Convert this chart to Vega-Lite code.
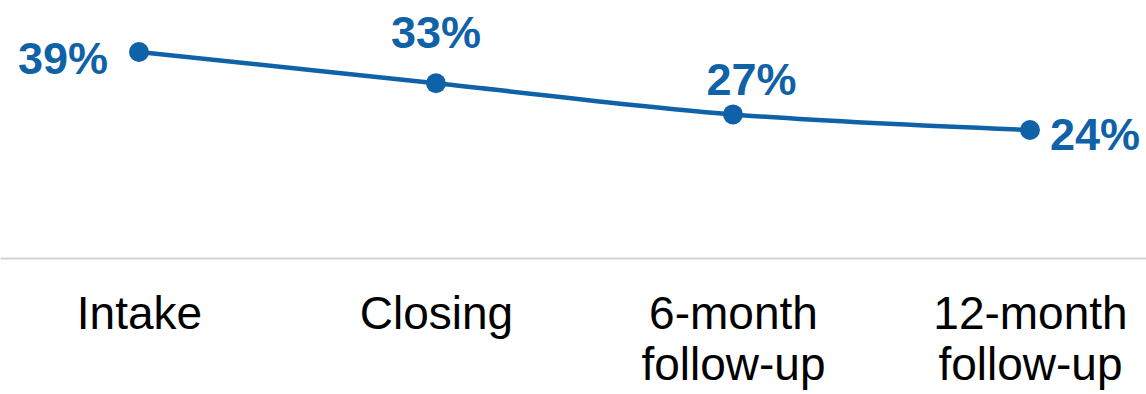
{
  "$schema": "https://vega.github.io/schema/vega-lite/v6.json",
  "width": 1146,
  "height": 258,
  "autosize": {"type": "none"},
  "padding": {"left": 0, "top": 0, "right": 0, "bottom": 136},
  "background": "white",
  "config": {"view": {"stroke": null}, "font": "Liberation Sans"},
  "data": {
    "values": [
      {"stage": "Intake", "pct": 0.39},
      {"stage": "Closing", "pct": 0.33},
      {"stage": "6-month follow-up", "pct": 0.27},
      {"stage": "12-month follow-up", "pct": 0.24}
    ]
  },
  "encoding": {
    "x": {
      "field": "stage",
      "type": "ordinal",
      "sort": null,
      "scale": {"type": "point", "padding": 0.4293, "align": 0.545},
      "axis": {
        "title": null,
        "domainColor": "#d3d3d3",
        "domainWidth": 2,
        "ticks": false,
        "grid": false,
        "labelPadding": 34,
        "labelFontSize": 46,
        "labelFont": "Liberation Sans",
        "labelColor": "#000000",
        "labelAngle": 0,
        "labelBaseline": "top",
        "labelLineHeight": 51,
        "labelOverlap": false,
        "labelBound": false,
        "labelFlush": false,
        "labelLimit": 0,
        "labelExpr": "indexof(datum.value, ' ') > 0 ? split(datum.value, ' ') : datum.value"
      }
    },
    "y": {
      "field": "pct",
      "type": "quantitative",
      "scale": {"domain": [-0.006, 0.49], "nice": false, "zero": false},
      "axis": null
    }
  },
  "layer": [
    {"mark": {"type": "line", "color": "#0f62a8", "strokeWidth": 4.5, "interpolate": "catmull-rom"}},
    {"mark": {"type": "point", "filled": true, "shape": "circle", "size": 400, "color": "#0f62a8", "opacity": 1}},
    {
      "transform": [{"filter": "datum.stage == 'Intake'"}],
      "mark": {"type": "text", "align": "right", "baseline": "alphabetic", "dx": -31, "dy": 22, "fontSize": 45, "fontWeight": "bold", "color": "#0f62a8"},
      "encoding": {"text": {"field": "pct", "type": "quantitative", "format": ".0%"}}
    },
    {
      "transform": [{"filter": "datum.stage == 'Closing'"}],
      "mark": {"type": "text", "align": "center", "baseline": "alphabetic", "dx": 0, "dy": -35, "fontSize": 45, "fontWeight": "bold", "color": "#0f62a8"},
      "encoding": {"text": {"field": "pct", "type": "quantitative", "format": ".0%"}}
    },
    {
      "transform": [{"filter": "datum.stage == '6-month follow-up'"}],
      "mark": {"type": "text", "align": "center", "baseline": "alphabetic", "dx": 18.5, "dy": -19.5, "fontSize": 45, "fontWeight": "bold", "color": "#0f62a8"},
      "encoding": {"text": {"field": "pct", "type": "quantitative", "format": ".0%"}}
    },
    {
      "transform": [{"filter": "datum.stage == '12-month follow-up'"}],
      "mark": {"type": "text", "align": "left", "baseline": "alphabetic", "dx": 20, "dy": 20, "fontSize": 45, "fontWeight": "bold", "color": "#0f62a8"},
      "encoding": {"text": {"field": "pct", "type": "quantitative", "format": ".0%"}}
    }
  ]
}
